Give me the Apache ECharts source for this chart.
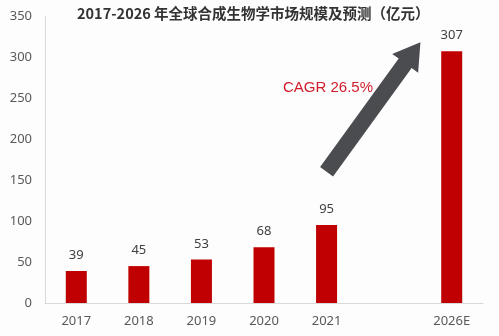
<!DOCTYPE html>
<html><head><meta charset="utf-8">
<script src="https://cdn.jsdelivr.net/npm/echarts@6/dist/echarts.min.js"></script>
<style>html,body{margin:0;padding:0;background:#fdfdfd}#c{width:499px;height:336px}</style>
</head><body><div id="c"></div>
<script>
const titleText = '2017-2026 年全球合成生物学市场规模及预测（亿元）';
const categories = ['2017', '2018', '2019', '2020', '2021', '', '2026E'];
const marketSize = [39, 45, 53, 68, 95, null, 307];
const cagrText = 'CAGR 26.5%';
// arrow annotation anchors in data space: [category position, value]
const arrowTail = [4, 160];
const arrowTip = [5.5, 318];

const chart = echarts.init(document.getElementById('c'));
const option = {
  backgroundColor: '#fdfdfd',
  animation: false,
  title: {
    text: titleText, left: 72, top: 1,
    textStyle: { fontFamily: 'Noto Sans CJK SC', fontWeight: 'bold', fontSize: 14.5, color: '#333' }
  },
  grid: { left: 45, right: 16, top: 16, bottom: 33, containLabel: false },
  xAxis: {
    type: 'category', data: categories,
    axisLine: { lineStyle: { color: '#d9d9d9' } },
    axisTick: { show: false },
    axisLabel: { color: '#595959', fontSize: 13, margin: 12, fontFamily: 'Noto Sans' }
  },
  yAxis: {
    type: 'value', min: 0, max: 350, interval: 50,
    axisLine: { show: true, lineStyle: { color: '#d9d9d9' } },
    axisTick: { show: false },
    splitLine: { show: false },
    axisLabel: { color: '#595959', fontSize: 13, margin: 13, fontFamily: 'Noto Sans' }
  },
  series: [{
    type: 'bar', data: marketSize, barWidth: 21,
    itemStyle: { color: '#c00000' },
    label: { show: true, position: 'top', distance: 9, color: '#404040', fontSize: 13, fontFamily: 'Noto Sans' }
  }]
};
chart.setOption(option);

function toPx(p) {
  const i0 = Math.floor(p[0]), f = p[0] - i0;
  const a = chart.convertToPixel({ gridIndex: 0 }, [i0, p[1]]);
  if (f === 0) return a;
  const b = chart.convertToPixel({ gridIndex: 0 }, [i0 + 1, p[1]]);
  return [a[0] + (b[0] - a[0]) * f, a[1]];
}

function drawArrow() {
  const t = toPx(arrowTail);
  const h = toPx(arrowTip);
  const dx = h[0] - t[0], dy = h[1] - t[1];
  const len = Math.sqrt(dx * dx + dy * dy);
  const ux = dx / len, uy = dy / len, nx = -uy, ny = ux;
  const sw = 8, hw = 16, hl = 26;
  const b = [h[0] - ux * hl, h[1] - uy * hl];
  const pts = [
    [t[0] + nx * sw, t[1] + ny * sw],
    [b[0] + nx * sw, b[1] + ny * sw],
    [b[0] + nx * hw, b[1] + ny * hw],
    [h[0], h[1]],
    [b[0] - nx * hw, b[1] - ny * hw],
    [b[0] - nx * sw, b[1] - ny * sw],
    [t[0] - nx * sw, t[1] - ny * sw]
  ];
  chart.setOption({
    graphic: [
      { type: 'polygon', shape: { points: pts }, style: { fill: '#4a4c50' }, z: 10 },
      { type: 'text', left: 283, top: 80, z: 11,
        style: { text: cagrText, fill: '#d01c2a', fontSize: 15, fontFamily: 'Liberation Sans' } }
    ]
  });
}
drawArrow();
</script></body></html>
